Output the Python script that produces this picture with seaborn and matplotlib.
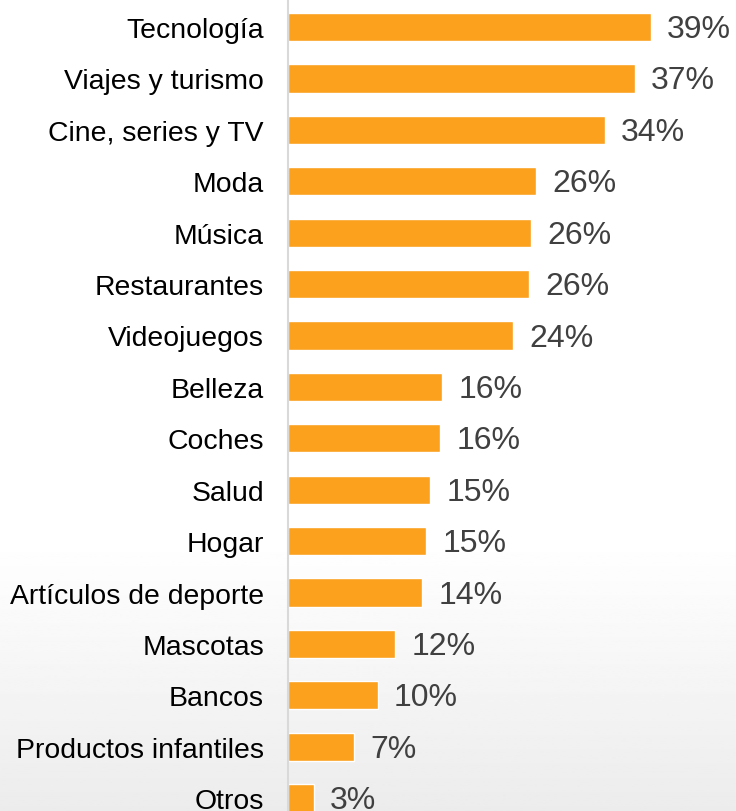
import numpy as np
import matplotlib
matplotlib.use("Agg")
import matplotlib.pyplot as plt
import seaborn as sns

categories = ["Tecnología", "Viajes y turismo", "Cine, series y TV", "Moda", "Música",
              "Restaurantes", "Videojuegos", "Belleza", "Coches", "Salud", "Hogar",
              "Artículos de deporte", "Mascotas", "Bancos", "Productos infantiles", "Otros"]
values = [39.0, 37.3, 34.1, 26.7, 26.2, 25.9, 24.2, 16.6, 16.4, 15.3, 14.9,
          14.5, 11.6, 9.7, 7.1, 2.8]
labels = ["39%", "37%", "34%", "26%", "26%", "26%", "24%", "16%", "16%", "15%", "15%",
          "14%", "12%", "10%", "7%", "3%"]

sns.set_style("white")
plt.rcParams['font.family'] = ['Liberation Sans', 'DejaVu Sans']

W, H = 736, 812
fig = plt.figure(figsize=(W / 100, H / 100), dpi=100)

# background: white fading to light grey towards the bottom
bg = fig.add_axes([0, 0, 1, 1], zorder=-10)
rows = np.linspace(0, 1, 400)
shade = np.where(rows < 0.665, 1.0, 1.0 - 0.075 * ((rows - 0.665) / 0.335))
bg.imshow(shade[:, None], aspect='auto', cmap='gray', vmin=0, vmax=1,
          extent=[0, 1, 1, 0])
bg.set_axis_off()

x0 = 287.5
ax = fig.add_axes([x0 / W, 0, 1 - x0 / W, 1 - 2.3 / H])
ax.patch.set_alpha(0)
sns.barplot(x=values, y=categories, orient='h', color='#FBA11D', saturation=1,
            width=0.55, ax=ax)

ax.set_xlim(0, (W - x0) / 9.31)
ax.set_ylim(15.25, -0.5)

for i, (v, lab) in enumerate(zip(values, labels)):
    ax.text(v + 1.75, i + 0.04, lab, va='center', ha='left', fontsize=23, color='#404040')

for s in ['top', 'right', 'bottom']:
    ax.spines[s].set_visible(False)
ax.spines['left'].set_color('#d9d9d9')
ax.spines['left'].set_linewidth(1.5)
ax.set_xticks([])
ax.set_xlabel('')
ax.set_ylabel('')
ax.tick_params(axis='y', length=0, pad=17, labelsize=20.4, labelcolor='black')

fig.savefig('out.png', dpi=100)
